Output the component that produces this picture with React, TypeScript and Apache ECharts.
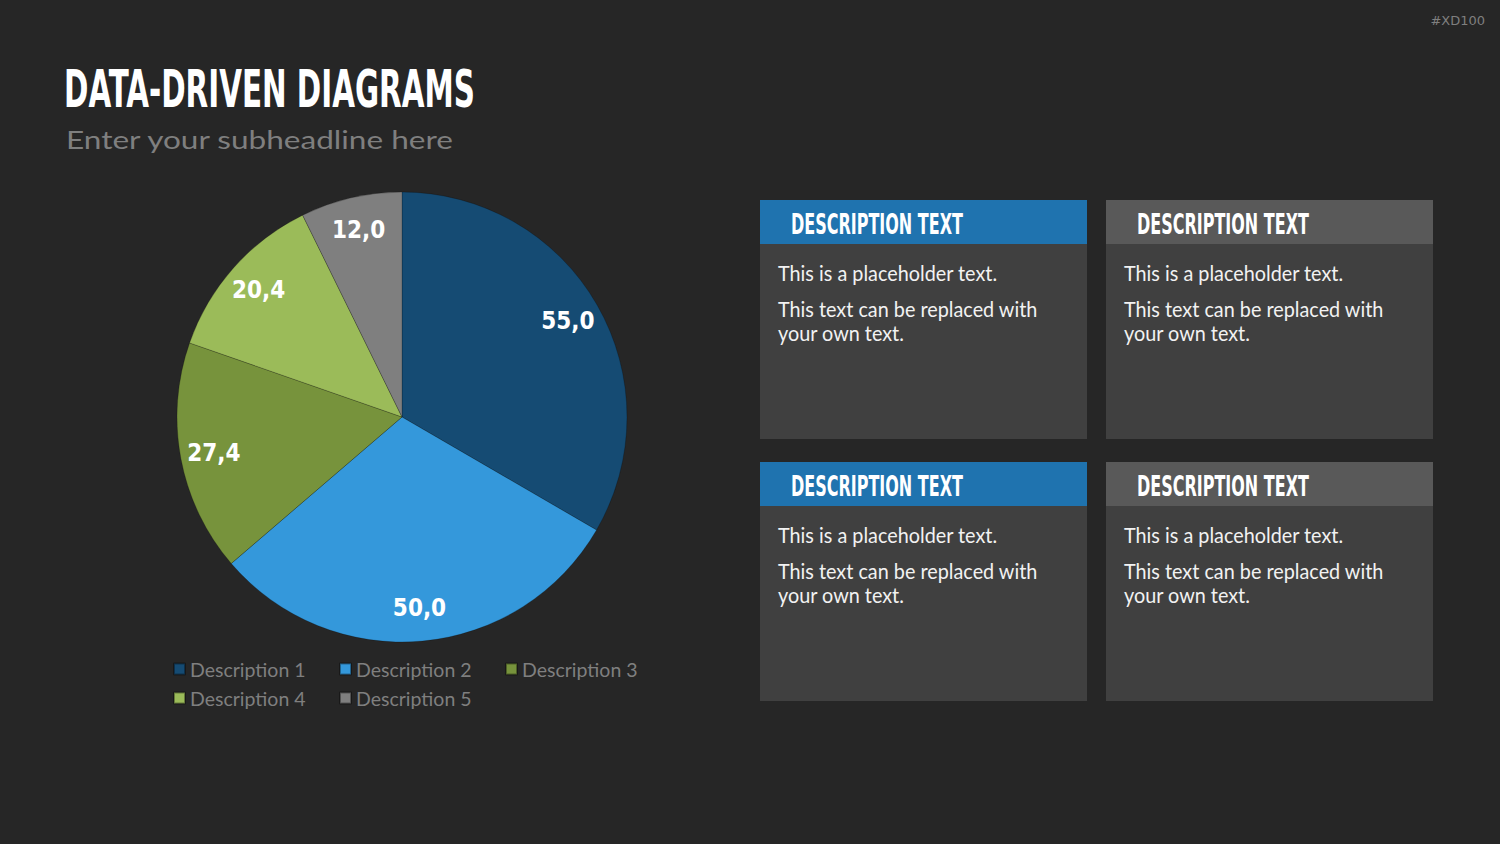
import React, { useEffect, useRef } from "react";
import * as echarts from "echarts";

const TITLE = "DATA-DRIVEN DIAGRAMS";
const SUBTITLE = "Enter your subheadline here";
const TAG = "#XD100";
const categories = ["Description 1", "Description 2", "Description 3", "Description 4", "Description 5"];
const values = [55.0, 50.0, 27.4, 20.4, 12.0];
const sliceColors = ["#154b73", "#3498db", "#77933c", "#9bbb59", "#7f7f7f"];
const cardTitles = ["DESCRIPTION TEXT", "DESCRIPTION TEXT", "DESCRIPTION TEXT", "DESCRIPTION TEXT"];
const cardLines = ["This is a placeholder text.", "This text can be replaced with", "your own text."];
const cardHeaderColors = ["#1f73af", "#595959", "#1f73af", "#595959"];

const CONDENSED = "'Liberation Sans Narrow', 'DejaVu Sans Condensed', 'Liberation Sans', sans-serif";
const BODY = "Lato, 'Open Sans', sans-serif";

function measure(text: string, font: string): number {
  const c = document.createElement("canvas").getContext("2d");
  if (!c) return text.length * 10;
  c.font = font;
  return c.measureText(text).width;
}

function fitText(text: string, x: number, y: number, size: number, family: string, weight: string, color: string, targetWidth: number, scale?: number) {
  const font = `${weight} ${size}px ${family}`;
  const s = scale ?? targetWidth / measure(text, font);
  return {
    type: "text",
    x,
    y,
    scaleX: s,
    silent: true,
    style: {
      text,
      fill: color,
      fontFamily: family,
      fontSize: size,
      fontWeight: weight,
      align: "left",
      verticalAlign: "middle",
    },
  };
}

export default function App() {
  const ref = useRef<HTMLDivElement>(null);
  useEffect(() => {
    if (!ref.current) return;
    const chart = echarts.init(ref.current, undefined, { renderer: "svg" });

    const graphics: any[] = [];
    graphics.push(fitText(TITLE, 64, 89, 51, CONDENSED, "bold", "#ffffff", 411));
    graphics.push(fitText(SUBTITLE, 66, 139.5, 25, BODY, "normal", "#7f7f7f", 389));
    graphics.push({
      type: "text",
      x: 1485,
      y: 20,
      silent: true,
      style: { text: TAG, fill: "#7f7f7f", fontFamily: "'DejaVu Sans'", fontSize: 13, align: "right", verticalAlign: "middle" },
    });

    const headerScale = 172 / measure(cardTitles[0], `bold 29px ${CONDENSED}`);
    const bodyScale = 260 / measure(cardLines[1], `normal 21px ${BODY}`);
    const cardX = [760, 1106, 760, 1106];
    const cardY = [200, 200, 462, 462];
    const W = 327;
    const H = 239;
    const HH = 44;
    for (let i = 0; i < 4; i++) {
      const x = cardX[i];
      const y = cardY[i];
      graphics.push({ type: "rect", silent: true, shape: { x, y, width: W, height: H }, style: { fill: "#404040" } });
      graphics.push({ type: "rect", silent: true, shape: { x, y, width: W, height: HH }, style: { fill: cardHeaderColors[i] } });
      graphics.push(fitText(cardTitles[i], x + 31, y + 24.7, 29, CONDENSED, "bold", "#ffffff", 0, headerScale));
      graphics.push(fitText(cardLines[0], x + 18, y + 72.5, 21, BODY, "normal", "#f2f2f2", 0, bodyScale));
      graphics.push(fitText(cardLines[1], x + 18, y + 108.7, 21, BODY, "normal", "#f2f2f2", 0, bodyScale));
      graphics.push(fitText(cardLines[2], x + 18, y + 132.7, 21, BODY, "normal", "#f2f2f2", 0, bodyScale));
    }

    const pieData = categories.map((name, i) => ({ name, value: values[i], itemStyle: { color: sliceColors[i] } }));
    const labelData = categories.map((name, i) => ({ name, value: values[i] }));

    const legendText = {
      color: "#7f7f7f",
      fontFamily: BODY,
      fontSize: 19.5,
      lineHeight: 20,
      width: 134,
    };

    chart.setOption({
      animation: false,
      backgroundColor: "#262626",
      graphic: graphics,
      legend: [
        {
          data: categories.slice(0, 3),
          left: 173,
          top: 659,
          padding: 0,
          orient: "horizontal",
          icon: "rect",
          itemWidth: 11,
          itemHeight: 11,
          itemGap: 15,
          selectedMode: false,
          textStyle: legendText,
        },
        {
          data: categories.slice(3),
          left: 173,
          top: 688,
          padding: 0,
          orient: "horizontal",
          icon: "rect",
          itemWidth: 11,
          itemHeight: 11,
          itemGap: 15,
          selectedMode: false,
          textStyle: legendText,
        },
      ],
      series: [
        {
          type: "pie",
          center: [402, 417],
          radius: [0, 225],
          startAngle: 90,
          clockwise: true,
          silent: true,
          label: { show: false },
          labelLine: { show: false },
          itemStyle: { borderColor: "rgba(0,0,0,0.35)", borderWidth: 0.6 },
          data: pieData,
        },
        {
          type: "pie",
          center: [402, 417],
          radius: [152, 225],
          startAngle: 90,
          clockwise: true,
          silent: true,
          legendHoverLink: false,
          itemStyle: { color: "rgba(0,0,0,0)" },
          label: {
            show: true,
            position: "inside",
            color: "#ffffff",
            fontFamily: CONDENSED,
            fontWeight: "bold",
            fontSize: 24,
            formatter: (p: any) => p.value.toFixed(1).replace(".", ","),
          },
          labelLine: { show: false },
          data: labelData,
        },
      ],
    });
    return () => chart.dispose();
  }, []);
  return (
    <div
      ref={ref}
      style={{ position: "fixed", left: 0, top: 0, width: 1500, height: 844, background: "#262626" }}
    />
  );
}
